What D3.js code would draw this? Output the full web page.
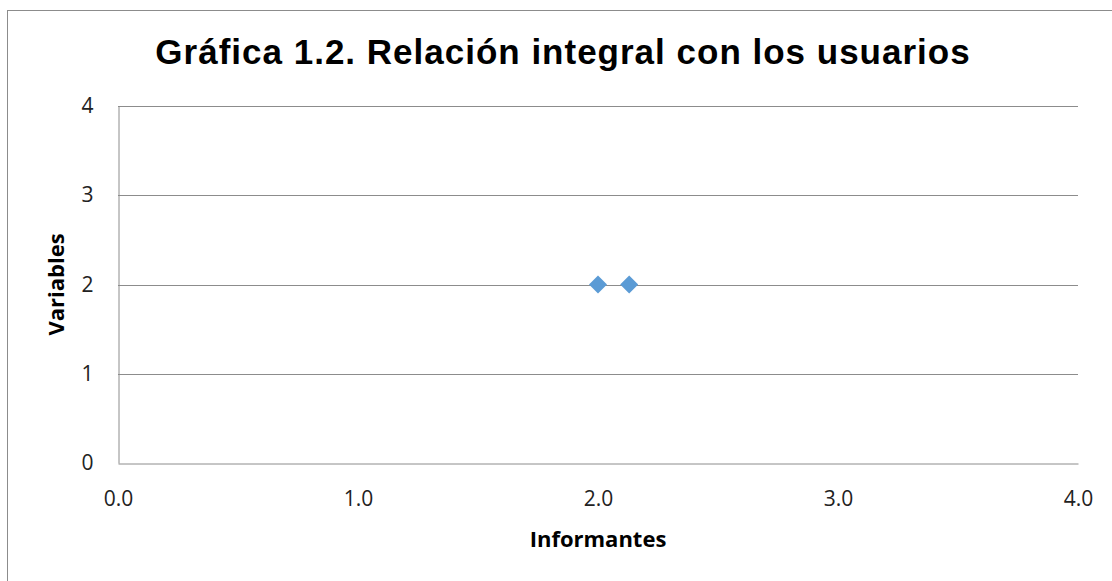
<!DOCTYPE html>
<html lang="es">
<head>
<meta charset="utf-8">
<title>Relación integral con los usuarios</title>
<script src="https://d3js.org/d3.v7.min.js"></script>
<style>
  body { margin: 0; background: #fff; }
  .tick text { font-family: "Open Sans", "Noto Sans", sans-serif; font-size: 21px; fill: #222; }
</style>
</head>
<body>
<svg id="chart" width="1112" height="581"></svg>
<script>
// data
var informantes = [2.0, 2.13];
var variables = [2, 2];
var xTicks = [0, 1, 2, 3, 4];
var yTicks = [0, 1, 2, 3, 4];

var svg = d3.select("#chart");
var margin = {top: 106, right: 34, bottom: 118, left: 118},
    width = 1112 - margin.left - margin.right,
    height = 581 - margin.top - margin.bottom;

// outer chart frame
svg.append("rect")
  .attr("x", 7.5).attr("y", 10.5)
  .attr("width", 1120).attr("height", 600)
  .attr("fill", "none").attr("stroke", "#8c8c8c");

svg.append("text")
  .attr("x", 563).attr("y", 64)
  .attr("text-anchor", "middle")
  .style("font-family", "'Liberation Sans', Arial, sans-serif")
  .style("font-weight", "bold")
  .style("font-size", "35px")
  .style("letter-spacing", "1px")
  .text("Gráfica 1.2. Relación integral con los usuarios");

var x = d3.scaleLinear().domain([0, 4]).range([0, width]),
    y = d3.scaleLinear().domain([0, 4]).range([height, 0]);

var g = svg.append("g")
  .attr("transform", "translate(" + margin.left + "," + margin.top + ")");

// gridlines
g.selectAll(".grid")
  .data(yTicks.slice(1))
  .enter().append("line")
    .attr("x1", 0).attr("x2", width)
    .attr("y1", function(d) { return Math.round(y(d)) + 0.5; })
    .attr("y2", function(d) { return Math.round(y(d)) + 0.5; })
    .attr("stroke", "#8c8c8c");

var xAxis = g.append("g")
  .attr("transform", "translate(0," + (height + 0.5) + ")")
  .call(d3.axisBottom(x).tickValues(xTicks).tickSize(0).tickPadding(28).tickFormat(d3.format(".1f")));
xAxis.select(".domain").attr("stroke", "#8c8c8c");

var yAxis = g.append("g")
  .attr("transform", "translate(0.5,0)")
  .call(d3.axisLeft(y).tickValues(yTicks).tickSize(0).tickPadding(25).tickFormat(d3.format("d")));
yAxis.select(".domain").attr("stroke", "#8c8c8c");

svg.append("text")
  .attr("transform", "translate(64," + (margin.top + height / 2) + ") rotate(-90)")
  .attr("text-anchor", "middle")
  .style("font-family", "'Open Sans', 'Noto Sans', sans-serif")
  .style("font-weight", "bold")
  .style("font-size", "22px")
  .text("Variables");

svg.append("text")
  .attr("x", margin.left + width / 2).attr("y", 547)
  .attr("text-anchor", "middle")
  .style("font-family", "'Open Sans', 'Noto Sans', sans-serif")
  .style("font-weight", "bold")
  .style("font-size", "22px")
  .text("Informantes");

var pts = informantes.map(function(d, i) { return {x: d, y: variables[i]}; });
g.selectAll(".pt")
  .data(pts)
  .enter().append("path")
    .attr("class", "pt")
    .attr("d", "M0,-9L9,0L0,9L-9,0Z")
    .attr("transform", function(d) { return "translate(" + x(d.x) + "," + y(d.y) + ")"; })
    .attr("fill", "#5B9BD5");
</script>
</body>
</html>
